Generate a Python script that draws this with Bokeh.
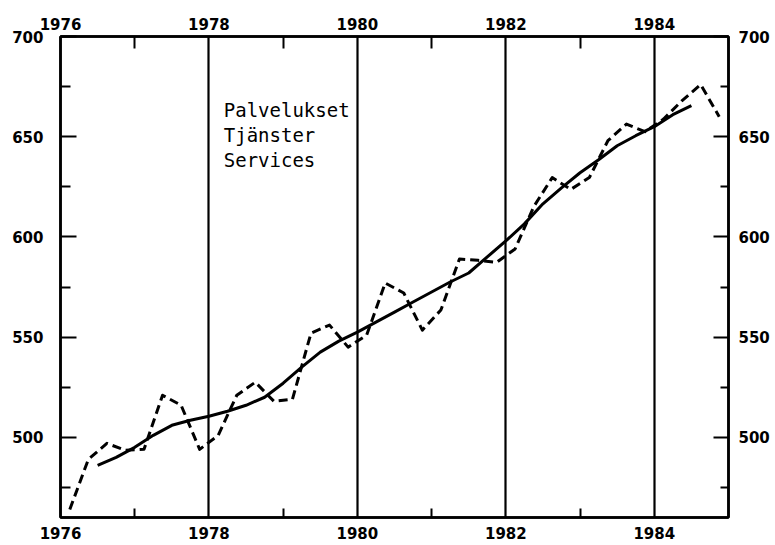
from bokeh.plotting import figure
from bokeh.models import FixedTicker, LinearAxis, Range1d, Grid
from bokeh.embed import file_html
from bokeh.resources import INLINE
from bokeh.core.properties import value

# ---- data ----
years = [1976, 1977, 1978, 1979, 1980, 1981, 1982, 1983, 1984]
quarter_mid = [0.125, 0.375, 0.625, 0.875]
# quarterly series (dashed)
actual = [464, 489, 497, 493.5,
          494, 521, 516, 494,
          501, 521, 527.5, 518,
          519, 552, 556, 545,
          551, 577, 572, 553.5,
          563.5, 589, 588.3, 587.3,
          594, 615, 629.6, 623.7,
          629.6, 648, 656.3, 652.5,
          658.8, 668, 676, 660]
# trend (solid), quarterly from mid-1976
trend_start = 1976.5
trend = [486, 490, 495, 501, 506, 508.5, 510.5, 513, 516, 520,
         527, 535, 542.5, 548, 552.5, 557.5, 562.5, 567.5, 572.5,
         577.5, 582, 590, 598, 606.5, 616.5, 624.5, 632, 638.5,
         645.5, 650.5, 655, 661, 665.5]
x_major = [1976, 1978, 1980, 1982, 1984]
x_minor = [1977, 1979, 1981, 1983]
x_grid = [1978, 1980, 1982, 1984]
y_major = [500, 550, 600, 650, 700]
y_minor = [475, 525, 575, 625, 675]
label_lines = ["Palvelukset", "Tjänster", "Services"]

actual_x = [yr + q for yr in years for q in quarter_mid]
trend_x = [trend_start + 0.25 * i for i in range(len(trend))]

p = figure(width=773, height=544,
           x_range=Range1d(1976, 1985), y_range=Range1d(460, 700),
           output_backend="svg", toolbar_location=None,
           x_axis_location=None, y_axis_location=None,
           min_border_left=60, min_border_top=36,
           min_border_right=45, min_border_bottom=27)
p.background_fill_color = "white"
p.border_fill_color = "white"
p.outline_line_color = "black"
p.outline_line_width = 2.5
p.grid.grid_line_color = None
p.grid.visible = False

LBL_FONT = "DejaVu Sans"


def style_axis(ax, standoff, maj_in, min_in):
    ax.axis_line_width = 2.5
    ax.axis_line_color = "black"
    ax.major_tick_in = maj_in
    ax.major_tick_out = 0
    ax.minor_tick_in = min_in
    ax.minor_tick_out = 0
    ax.major_tick_line_width = 2
    ax.minor_tick_line_width = 2
    ax.major_tick_line_color = "black"
    ax.minor_tick_line_color = "black"
    ax.major_label_standoff = standoff
    ax.major_label_text_font = LBL_FONT
    ax.major_label_text_font_size = "15px"
    ax.major_label_text_font_style = "bold"
    ax.major_label_text_color = "black"


top = LinearAxis(ticker=FixedTicker(ticks=x_major, minor_ticks=x_minor))
style_axis(top, 7, 0, 12)
bottom = LinearAxis(ticker=FixedTicker(ticks=x_major, minor_ticks=x_minor))
style_axis(bottom, 9, 0, 9)
left = LinearAxis(ticker=FixedTicker(ticks=y_major, minor_ticks=y_minor))
style_axis(left, 17, 16, 10)
right = LinearAxis(ticker=FixedTicker(ticks=y_major, minor_ticks=y_minor))
style_axis(right, 10, 15, 8)

p.add_layout(top, "above")
p.add_layout(bottom, "below")
p.add_layout(left, "left")
p.add_layout(right, "right")

grid = Grid(dimension=0, ticker=FixedTicker(ticks=x_grid))
grid.grid_line_color = "black"
grid.grid_line_width = 2.2
p.add_layout(grid)

p.line(actual_x, actual, line_color="black", line_width=3,
       line_dash="9 5", line_join="round")
p.line(trend_x, trend, line_color="black", line_width=3, line_join="round")

p.text(x=[1978.2], y=[669], text=["\n".join(label_lines)],
       text_font=value("DejaVu Sans Mono"), text_font_size="19px",
       text_baseline="top", text_align="left", text_line_height=1.15,
       text_color="black")

open("out.html", "w").write(file_html(p, INLINE))
